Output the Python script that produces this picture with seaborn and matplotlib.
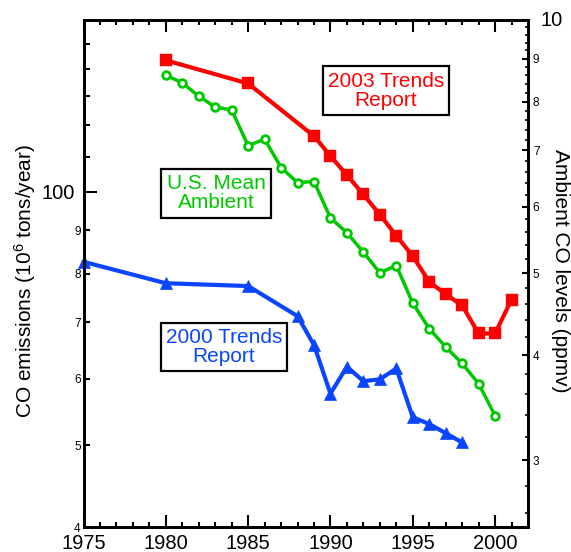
import numpy as np
import pandas as pd
import matplotlib
matplotlib.use("Agg")
import matplotlib.pyplot as plt
import seaborn as sns
from matplotlib.ticker import FixedLocator, FixedFormatter

# ---------------- data ----------------
years_2003 = [1980, 1985, 1989, 1990, 1991, 1992, 1993, 1994, 1995, 1996, 1997, 1998, 1999, 2000, 2001]
emis_2003 = [143.3, 134.5, 116.5, 110.3, 104.7, 99.3, 94.0, 88.7, 83.9, 78.2, 75.6, 73.3, 67.9, 67.9, 74.5]

years_2000 = [1975, 1980, 1985, 1988, 1989, 1990, 1991, 1992, 1993, 1994, 1995, 1996, 1997, 1998]
emis_2000 = [82.6, 77.9, 77.3, 71.2, 65.8, 57.6, 62.0, 59.6, 59.9, 61.7, 54.0, 53.0, 51.7, 50.4]

years_amb = [1980, 1981, 1982, 1983, 1984, 1985, 1986, 1987, 1988, 1989, 1990,
             1991, 1992, 1993, 1994, 1995, 1996, 1997, 1998, 1999, 2000]
amb_ppmv = [8.60, 8.42, 8.12, 7.88, 7.82, 7.09, 7.22, 6.68, 6.41, 6.43, 5.82,
            5.59, 5.30, 5.01, 5.11, 4.61, 4.30, 4.09, 3.91, 3.70, 3.39]

x_major = [1975, 1980, 1985, 1990, 1995, 2000]
left_major = [100]
left_major_labels = ["100"]
left_minor = [40, 50, 60, 70, 80, 90, 110, 120, 130, 140, 150]
left_minor_labels = ["4", "5", "6", "7", "8", "9", "", "", "", "", ""]
right_major = [3, 4, 5, 6, 7, 8, 9, 10]
right_major_labels = ["3", "4", "5", "6", "7", "8", "9", "10"]

RED = "#ff0000"
GREEN = "#00c800"
BLUE = "#0a46ff"

sns.set_style("ticks")
plt.rcParams["font.family"] = ["Liberation Sans", "DejaVu Sans"]
plt.rcParams["mathtext.fontset"] = "custom"
plt.rcParams["mathtext.rm"] = "Liberation Sans"
plt.rcParams["mathtext.it"] = "Liberation Sans:italic"
plt.rcParams["text.color"] = "black"
plt.rcParams["axes.labelcolor"] = "black"
plt.rcParams["xtick.color"] = "black"
plt.rcParams["ytick.color"] = "black"

fig = plt.figure(figsize=(5.71, 5.52), dpi=100)
ax = fig.add_axes([83.5 / 571, 1 - 527 / 552, 444.5 / 571, 507 / 552])
ax2 = ax.twinx()

ax.set_yscale("log")
ax2.set_yscale("log")

df03 = pd.DataFrame({"year": years_2003, "emis": emis_2003})
df00 = pd.DataFrame({"year": years_2000, "emis": emis_2000})
dfam = pd.DataFrame({"year": years_amb, "ppmv": amb_ppmv})

sns.lineplot(data=df03, x="year", y="emis", ax=ax, color=RED, linewidth=3,
             marker="s", markersize=8.5, markeredgecolor=RED, markeredgewidth=0.3,
             legend=False, clip_on=False, zorder=3)
sns.lineplot(data=df00, x="year", y="emis", ax=ax, color=BLUE, linewidth=3,
             marker="^", markersize=9, markeredgecolor=BLUE, markeredgewidth=0.5,
             legend=False, clip_on=False, zorder=3)
sns.lineplot(data=dfam, x="year", y="ppmv", ax=ax2, color=GREEN, linewidth=2.5,
             marker="o", markersize=5.5, markerfacecolor="white",
             markeredgecolor=GREEN, markeredgewidth=2.0,
             legend=False, clip_on=False, zorder=3)

ax.set_xlim(1975, 2002)
ax.set_ylim(40, 160)
ax2.set_ylim(2.5, 10)

# x ticks
ax.xaxis.set_major_locator(FixedLocator(x_major))
ax.xaxis.set_minor_locator(FixedLocator(list(range(1975, 2003))))
ax.tick_params(axis="x", which="both", direction="in", top=True, bottom=True,
               width=1.5, labelsize=14.5)
ax.tick_params(axis="x", which="major", length=8.5, pad=5)
ax.tick_params(axis="x", which="minor", length=3.5)

# left y ticks
ax.yaxis.set_major_locator(FixedLocator(left_major))
ax.yaxis.set_major_formatter(FixedFormatter(left_major_labels))
ax.yaxis.set_minor_locator(FixedLocator(left_minor))
ax.yaxis.set_minor_formatter(FixedFormatter(left_minor_labels))
ax.tick_params(axis="y", which="major", direction="in", length=9.5, width=1.5,
               labelsize=14.5, pad=6)
ax.tick_params(axis="y", which="minor", direction="in", length=4.5, width=1.5,
               labelsize=8.5, pad=2)

# right y ticks
ax2.yaxis.set_major_locator(FixedLocator(right_major))
ax2.yaxis.set_major_formatter(FixedFormatter(right_major_labels))
rminor = [round(v, 1) for v in np.arange(2.6, 10.0, 0.2) if abs(v - round(v)) > 0.05]
ax2.yaxis.set_minor_locator(FixedLocator(rminor))
ax2.yaxis.set_minor_formatter(FixedFormatter([""] * len(rminor)))
ax2.tick_params(axis="y", which="major", direction="in", length=4, width=1.5,
                labelsize=8.5, pad=3.5)
ax2.tick_params(axis="y", which="minor", direction="in", length=2, width=1.2)
t10 = ax2.yaxis.get_major_ticks()[-1]
t10.label2.set_fontsize(14.5)
t10.label2.set_verticalalignment("center")
t10.set_pad(9)

for a in (ax, ax2):
    for s in a.spines.values():
        s.set_linewidth(2.0)
        s.set_color("black")
        s.set_visible(True)

ax.set_xlabel("")
ax.set_ylabel(r"CO emissions (10$^6$ tons/year)", fontsize=15, va="center")
ax.yaxis.set_label_coords(-0.131, 0.485)
ax2.set_ylabel("Ambient CO levels (ppmv)", fontsize=15, rotation=270, va="center")
ax2.yaxis.set_label_coords(1.074, 0.505)

box = dict(boxstyle="square,pad=0.25", fc="white", ec="black", lw=1.6)
ax.text(0.6805, 0.8606, "2003 Trends\nReport", transform=ax.transAxes, ha="center",
        va="center", fontsize=15, color=RED, linespacing=1.0, bbox=box, zorder=5)
ax.text(0.298, 0.6578, "U.S. Mean\nAmbient", transform=ax.transAxes, ha="center",
        va="center", fontsize=15, color=GREEN, linespacing=1.0, bbox=box, zorder=5)
ax.text(0.316, 0.3556, "2000 Trends\nReport", transform=ax.transAxes, ha="center",
        va="center", fontsize=15, color=BLUE, linespacing=1.0, bbox=box, zorder=5)

fig.savefig("out.png", dpi=100)
